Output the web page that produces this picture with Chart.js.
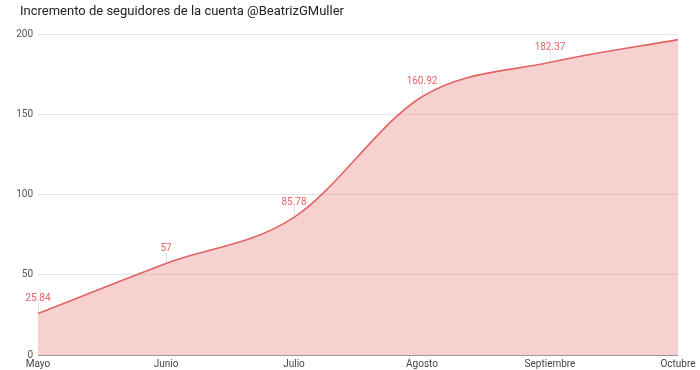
<!DOCTYPE html>
<html>
<head>
<meta charset="utf-8">
<script src="https://cdn.jsdelivr.net/npm/chart.js@4"></script>
<style>
html,body{margin:0;padding:0;background:#fff;}
#wrap{width:700px;height:370px;position:relative;}
</style>
</head>
<body>
<div id="wrap"><canvas id="c" width="700" height="370"></canvas></div>
<script>
const titleText = "Incremento de seguidores de la cuenta @BeatrizGMuller";
const categories = ["Mayo", "Junio", "Julio", "Agosto", "Septiembre", "Octubre"];
const followers = [25.84, 57, 85.78, 160.92, 182.37, 196.5];
const pointLabels = ["25.84", "57", "85.78", "160.92", "182.37", ""];
const yTicks = [0, 50, 100, 150, 200];

const LINE = "#e06464";
const FILL = "rgba(230,110,110,0.32)";

const annotPlugin = {
  id: "annot",
  afterDatasetsDraw(chart) {
    const ctx = chart.ctx;
    const meta = chart.getDatasetMeta(0);
    ctx.save();
    ctx.font = "10px Roboto";
    ctx.textAlign = "center";
    ctx.textBaseline = "bottom";
    meta.data.forEach((pt, i) => {
      const txt = pointLabels[i];
      if (!txt) return;
      ctx.strokeStyle = "rgba(170,170,170,0.35)";
      ctx.lineWidth = 1;
      ctx.beginPath();
      ctx.moveTo(Math.round(pt.x) + 0.5, pt.y - 1);
      ctx.lineTo(Math.round(pt.x) + 0.5, pt.y - 11);
      ctx.stroke();
      ctx.fillStyle = LINE;
      ctx.fillText(txt, pt.x, pt.y - 10);
    });
    ctx.restore();
  }
};

const titlePlugin = {
  id: "customTitle",
  afterDraw(chart) {
    const ctx = chart.ctx;
    ctx.save();
    ctx.font = "13px Roboto";
    ctx.fillStyle = "#222";
    ctx.textAlign = "left";
    ctx.textBaseline = "middle";
    ctx.fillText(titleText, 20, 12);
    ctx.restore();
  }
};

new Chart(document.getElementById("c"), {
  type: "line",
  data: {
    labels: categories,
    datasets: [{
      data: followers,
      borderColor: LINE,
      backgroundColor: FILL,
      borderWidth: 1.6,
      fill: "origin",
      pointRadius: 0,
      pointHoverRadius: 0,
      cubicInterpolationMode: "monotone"
    }]
  },
  options: {
    responsive: false,
    animation: false,
    devicePixelRatio: 1,
    layout: { padding: { top: 34, right: 22, left: 0, bottom: 0 } },
    plugins: { legend: { display: false }, tooltip: { enabled: false }, title: { display: false } },
    scales: {
      x: {
        offset: false,
        grid: { display: false, drawTicks: false },
        border: { display: false },
        ticks: { font: { family: "Roboto", size: 10 }, color: "#444", padding: 3, maxRotation: 0, autoSkip: false },
        afterFit(s) { s.height = 15; }
      },
      y: {
        min: 0, max: 200,
        afterBuildTicks(s) { s.ticks = yTicks.map(v => ({ value: v })); },
        grid: {
          drawTicks: false,
          color: (c) => c.tick && c.tick.value === 0 ? "#999" : "#e3e3e3",
          lineWidth: 1
        },
        border: { display: false },
        ticks: { font: { family: "Roboto", size: 10 }, color: "#555", padding: 5 },
        afterFit(s) { s.width = 38; }
      }
    }
  },
  plugins: [annotPlugin, titlePlugin]
});
</script>
</body>
</html>
